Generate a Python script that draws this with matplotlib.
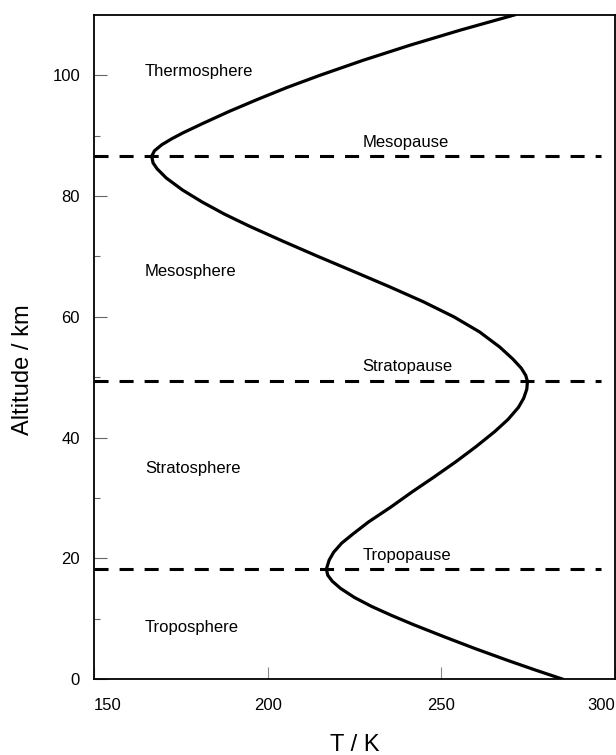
import matplotlib
matplotlib.use("Agg")
import matplotlib.pyplot as plt

plt.rcParams["font.family"] = ["Liberation Sans", "DejaVu Sans"]

# temperature profile (T in K, altitude in km)
temp_k = [284.8, 277.0, 269.5, 259.9, 250.8, 242.0, 235.8, 230.0, 225.0,
          221.0, 218.6, 217.3, 216.9, 217.7, 219.0, 221.3, 224.5, 229.0,
          235.5, 241.6, 248.0, 254.2, 260.0, 265.4, 269.2, 272.2, 273.7,
          274.6, 274.8, 274.3, 273.0, 270.6, 266.8, 261.0, 253.6, 244.8,
          235.0, 224.8, 214.5, 204.5, 194.8, 187.6, 181.2, 175.5, 170.8,
          168.2, 167.0, 166.6, 167.4, 169.5, 172.4, 175.7, 181.2, 188.8,
          197.0, 205.6, 215.0, 227.5, 241.0, 255.5, 271.0]
alt_km = [0.0, 1.5, 3.0, 5.0, 7.0, 9.0, 10.5, 12.0, 13.5,
          15.0, 16.2, 17.2, 18.2, 19.7, 21.0, 22.5, 24.0, 26.0,
          28.5, 31.0, 33.5, 36.0, 38.5, 41.0, 43.0, 45.0, 46.5,
          48.0, 49.3, 50.3, 51.5, 53.0, 55.0, 57.5, 60.0, 62.5,
          65.0, 67.5, 70.0, 72.5, 75.0, 77.0, 79.0, 81.0, 83.0,
          84.5, 85.5, 86.6, 87.5, 88.5, 89.5, 90.5, 92.0, 94.0,
          96.0, 98.0, 100.0, 102.5, 105.0, 107.5, 110.0]

pause_names = ["Tropopause", "Stratopause", "Mesopause"]
pause_alt = [18.2, 49.3, 86.7]
pause_label_alt = [20.4, 51.7, 88.9]

layer_names = ["Troposphere", "Stratosphere", "Mesosphere", "Thermosphere"]
layer_label_alt = [8.6, 34.8, 67.5, 100.7]

fig = plt.figure(figsize=(6.16, 7.55), dpi=100)
ax = fig.add_axes([94 / 616, 1 - 679 / 755, 521 / 616, 664 / 755])

ax.plot(temp_k, alt_km, color="black", lw=2.3, solid_joinstyle="round", zorder=3)

for z, name, lz in zip(pause_alt, pause_names, pause_label_alt):
    ax.plot([150, 296], [z, z], color="black", lw=2.2, dashes=(4.6, 3.6))
    ax.text(227.3, lz, name, fontsize=12, ha="left", va="center")

for name, lz in zip(layer_names, layer_label_alt):
    ax.text(164.7, lz, name, fontsize=12, ha="left", va="center")

ax.set_xlim(150, 300)
ax.set_ylim(0, 110)
ax.set_xticks([150, 200, 250, 300])
ax.set_yticks([0, 20, 40, 60, 80, 100])
ax.set_yticks(range(10, 110, 20), minor=True)
ax.tick_params(axis="x", direction="in", length=9, width=0.8, color="#888888",
               labelsize=12, pad=14)
ax.tick_params(axis="y", which="major", direction="in", length=9, width=0.8,
               color="#666666", labelsize=12, pad=10)
ax.tick_params(axis="y", which="minor", direction="in", length=4.5, width=0.8,
               color="#666666")
xl = ax.get_xticklabels()
xl[0].set_horizontalalignment("left")
xl[-1].set_horizontalalignment("right")

for s in ax.spines.values():
    s.set_linewidth(1.3)

fig.text(23 / 616, 1 - 370 / 755, "Altitude / km", rotation=90, fontsize=17,
         ha="center", va="center")
fig.text(355 / 616, 1 - 745 / 755, "T / K", fontsize=17, ha="center", va="center")

fig.savefig("out.png", dpi=100)
